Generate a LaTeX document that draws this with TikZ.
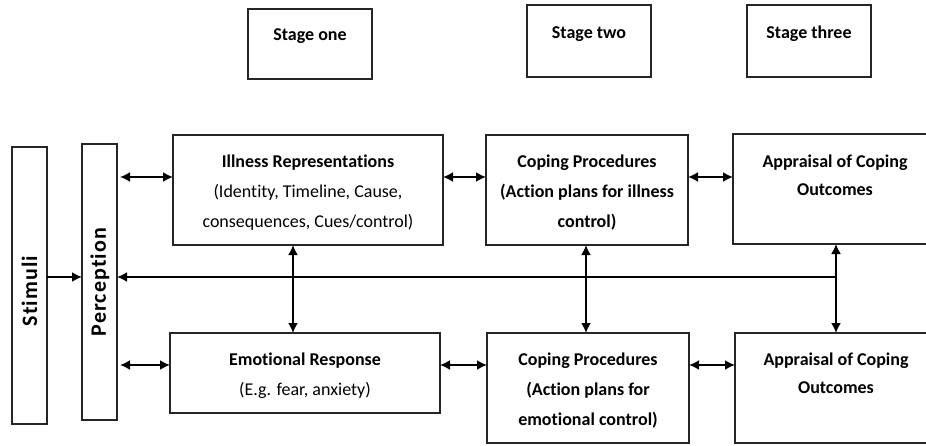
\documentclass[tikz,border=0pt]{standalone}
\usepackage{fontspec}
\setmainfont{Carlito}[Ligatures=NoCommon]
\newfontfamily\spacedfont{Carlito}[LetterSpace=5,Ligatures=NoCommon]
\usetikzlibrary{arrows.meta}
\tikzset{
  box/.style={draw=black!85, line width=1.4pt, inner sep=0pt, outer sep=0pt},
  txt/.style={align=center, inner sep=0pt, anchor=north, font=\fontsize{18}{30}\selectfont},
  btxt/.style={txt, font=\fontsize{18}{30}\selectfont\bfseries},
  arr/.style={line width=1.8pt, -{Latex[length=10pt,width=10pt]}},
  dbl/.style={line width=1.8pt, {Latex[length=10pt,width=10pt]}-{Latex[length=10pt,width=10pt]}},
  vtxt/.style={rotate=90, font=\spacedfont\fontsize{22}{24}\selectfont\bfseries, inner sep=0pt}
}
\begin{document}
\begin{tikzpicture}[x=1pt,y=-1pt]
\useasboundingbox (0,0) rectangle (926,445);
% stage boxes
\node[box, minimum width=124pt, minimum height=70pt] (stone) at (310,44) {};
\node[box, minimum width=124pt, minimum height=72pt] (sttwo) at (589,41) {};
\node[box, minimum width=124pt, minimum height=72pt] (stthree) at (809,41) {};
\node[btxt] (tone) at ([yshift=-19pt]stone.north) {Stage one};
\node[btxt] (ttwo) at ([yshift=-21pt]sttwo.north) {Stage two};
\node[btxt] (tthree) at ([yshift=-21pt]stthree.north) {Stage three};
% left columns
\node[box, minimum width=35pt, minimum height=277pt] (stim) at (29.5,285.5) {};
\node[box, minimum width=35pt, minimum height=276pt] (perc) at (99.5,282) {};
\node[vtxt] (tstim) at (29.5,291) {Stimuli};
\node[vtxt] (tperc) at (100,282) {Perception};
% main boxes
\node[box, minimum width=270pt, minimum height=110pt] (ill) at (308,190) {};
\node[box, minimum width=270pt, minimum height=80pt] (emo) at (305,373) {};
\node[box, minimum width=202pt, minimum height=110pt] (cop1) at (587,190) {};
\node[box, minimum width=202pt, minimum height=110pt] (cop2) at (588,388) {};
\node[box, minimum width=200pt, minimum height=110pt] (app1) at (833,189) {};
\node[box, minimum width=198pt, minimum height=110pt] (app2) at (834,388) {};
% texts
\node[txt] (till) at ([yshift=-20pt]ill.north) {\textbf{Illness Representations}\\(Identity, Timeline, Cause,\\consequences, Cues/control)};
\node[txt] (temo) at ([yshift=-20pt]emo.north) {\textbf{Emotional Response}\\(E.g. fear, anxiety)};
\node[btxt] (tcop1) at ([yshift=-20pt]cop1.north) {Coping Procedures\\(Action plans for illness\\control)};
\node[btxt] (tcop2) at ([yshift=-20pt]cop2.north) {Coping Procedures\\(Action plans for\\emotional control)};
\node[btxt, font=\fontsize{18}{28}\selectfont\bfseries] (tapp1) at ([xshift=2pt,yshift=-21pt]app1.north) {Appraisal of Coping\\Outcomes};
\node[btxt, font=\fontsize{18}{28}\selectfont\bfseries] (tapp2) at ([xshift=2pt,yshift=-20pt]app2.north) {Appraisal of Coping\\Outcomes};
% connectors
\coordinate (fb) at (836,277);
\coordinate (pl) at (120,177);
\coordinate (pe) at (120,365);
\draw[arr] (stim.east |- fb) -- (perc.west |- fb);
\draw[dbl] (pl) -- (ill.west |- pl);
\draw[dbl] (pe) -- (emo.west |- pe);
\draw[dbl] (ill.east |- pl) -- (cop1.west |- pl);
\draw[dbl] (cop1.east |- pl) -- (app1.west |- pl);
\draw[dbl] (emo.east |- pe) -- (cop2.west |- pe);
\draw[dbl] (cop2.east |- pe) -- (app2.west |- pe);
\draw[dbl] (ill.south -| 293,0) -- (emo.north -| 293,0);
\draw[dbl] (cop1.south -| 586,0) -- (cop2.north -| 586,0);
\draw[dbl] (app1.south -| fb) -- (app2.north -| fb);
\draw[arr] (fb) -- (perc.east |- fb);
\end{tikzpicture}
\end{document}
